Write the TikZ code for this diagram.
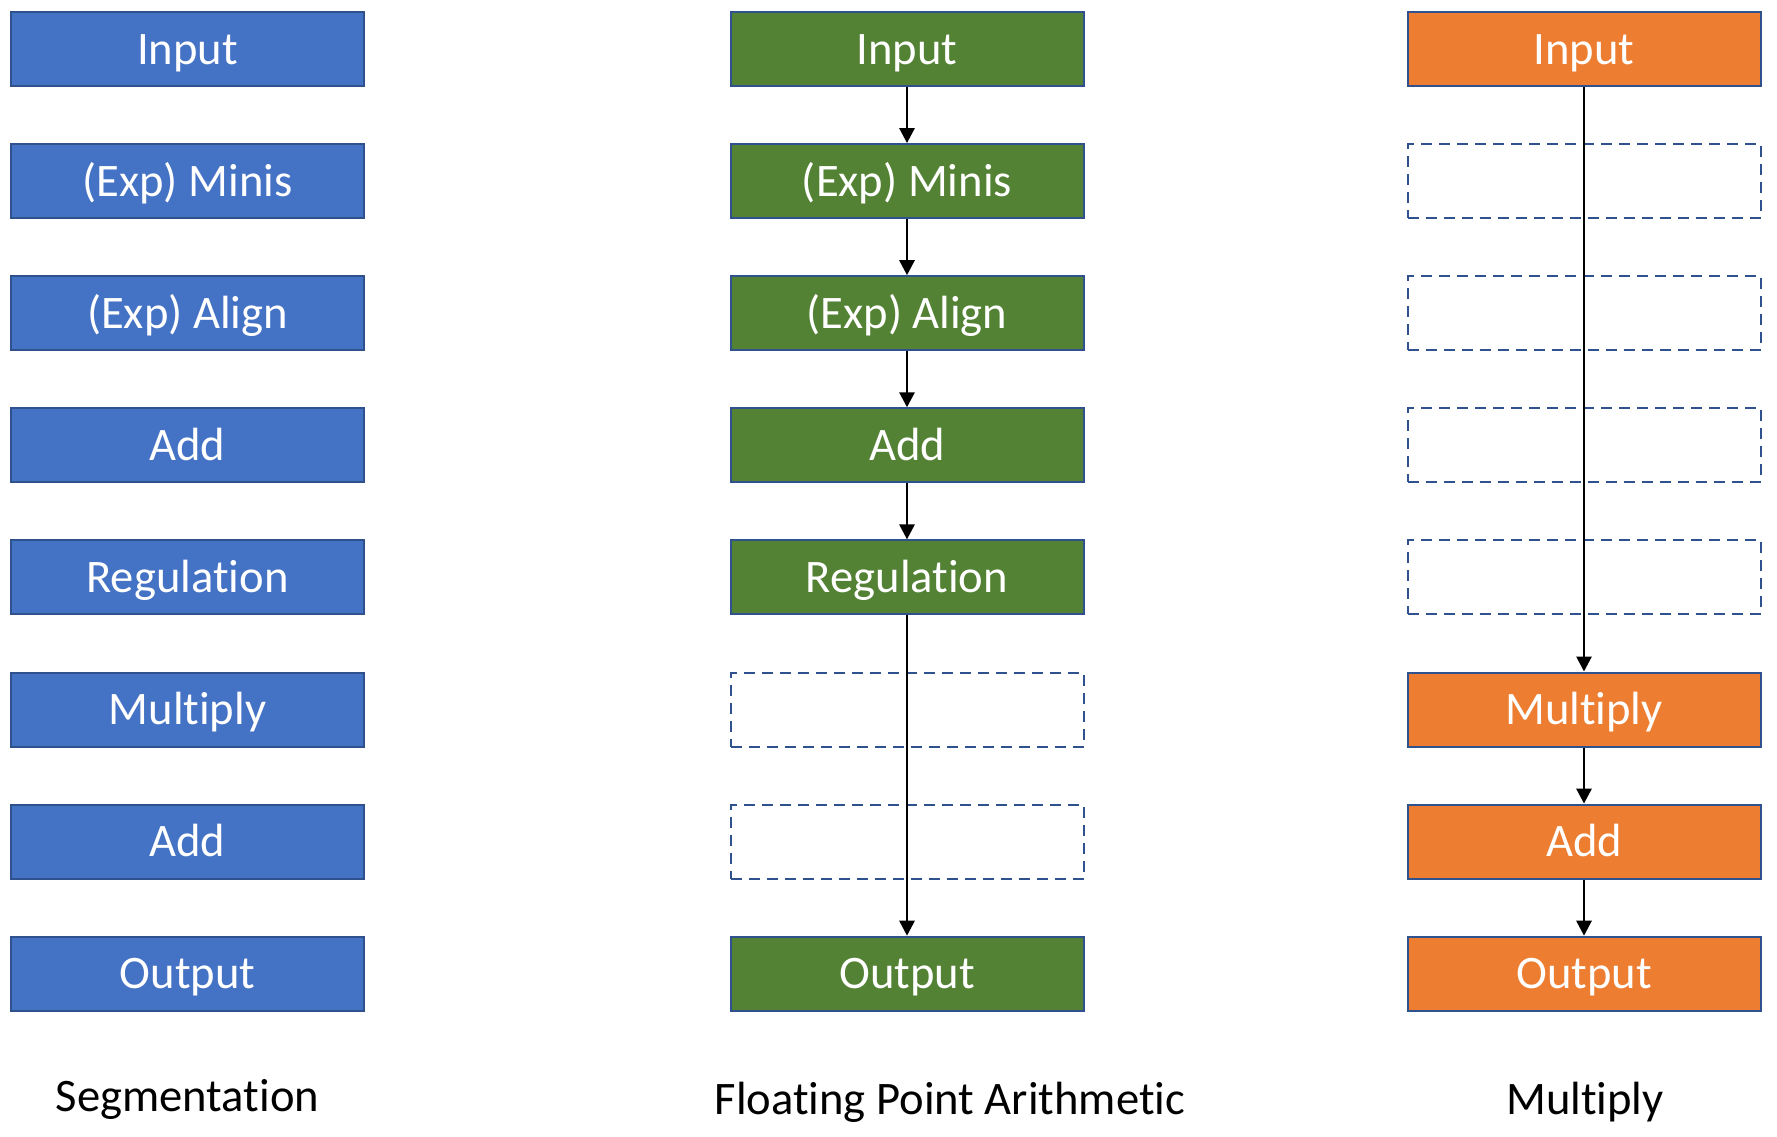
\documentclass[tikz,border=0pt]{standalone}
\usepackage{fontspec}
\setmainfont{Carlito}[Ligatures={NoCommon}]
\usetikzlibrary{arrows.meta}
\definecolor{cblue}{HTML}{4472C4}
\definecolor{cgreen}{HTML}{548235}
\definecolor{corange}{HTML}{ED7D31}
\definecolor{cborder}{HTML}{2F528F}
\tikzset{
  stagebox/.style={draw=cborder, line width=1pt, minimum width=176.5pt, minimum height=37pt,
    inner sep=0pt, text height=15pt, text depth=0pt, text=white,
    font=\fontsize{23.3}{28}\selectfont},
  bluebox/.style={stagebox, fill=cblue},
  greenbox/.style={stagebox, fill=cgreen},
  orangebox/.style={stagebox, fill=corange},
  emptybox/.style={draw=cborder, line width=1pt, dash pattern=on 5.5pt off 3.5pt,
    minimum width=176.5pt, minimum height=37pt, inner sep=0pt},
  flow/.style={draw=black, line width=1.4pt, -{Triangle[width=7.5pt,length=7.5pt]}},
  caption/.style={anchor=base, text=black, font=\fontsize{23.3}{28}\selectfont, inner sep=0pt}
}
\begin{document}
\begin{tikzpicture}[x=0.5pt,y=-0.5pt]
\useasboundingbox (0,0) rectangle (1777,1136);
% column 1
\node[bluebox] (s0) at (187.5,49) {Input};
\node[bluebox] (s1) at (187.5,181.1) {(Exp) Minis};
\node[bluebox] (s2) at (187.5,313.2) {(Exp) Align};
\node[bluebox] (s3) at (187.5,445.3) {Add};
\node[bluebox] (s4) at (187.5,577.4) {Regulation};
\node[bluebox] (s5) at (187.5,709.5) {Multiply};
\node[bluebox] (s6) at (187.5,841.6) {Add};
\node[bluebox] (s7) at (187.5,973.7) {Output};
% column 2
\node[emptybox] (f5) at (907,709.5) {};
\node[emptybox] (f6) at (907,841.6) {};
\node[greenbox] (f0) at (907,49) {Input};
\node[greenbox] (f1) at (907,181.1) {(Exp) Minis};
\node[greenbox] (f2) at (907,313.2) {(Exp) Align};
\node[greenbox] (f3) at (907,445.3) {Add};
\node[greenbox] (f4) at (907,577.4) {Regulation};
\node[greenbox] (f7) at (907,973.7) {Output};
% column 3
\node[emptybox] (m1) at (1584,181.1) {};
\node[emptybox] (m2) at (1584,313.2) {};
\node[emptybox] (m3) at (1584,445.3) {};
\node[emptybox] (m4) at (1584,577.4) {};
\node[orangebox] (m0) at (1584,49) {Input};
\node[orangebox] (m5) at (1584,709.5) {Multiply};
\node[orangebox] (m6) at (1584,841.6) {Add};
\node[orangebox] (m7) at (1584,973.7) {Output};
% arrows
\draw[flow] (f0) -- (f1);
\draw[flow] (f1) -- (f2);
\draw[flow] (f2) -- (f3);
\draw[flow] (f3) -- (f4);
\draw[flow] (f4) -- (f7);
\draw[flow] (m0) -- (m5);
\draw[flow] (m5) -- (m6);
\draw[flow] (m6) -- (m7);
% captions
\node[caption] (c1) at (187.5,1111) {Segmentation};
\node[caption] (c2) at (950,1114) {Floating Point Arithmetic};
\node[caption] (c3) at (1585,1114) {Multiply};
\end{tikzpicture}
\end{document}
